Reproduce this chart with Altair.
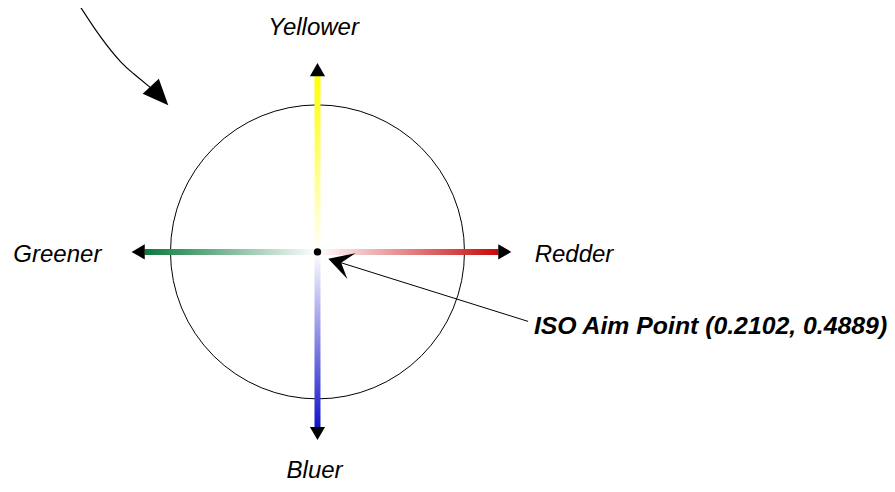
import altair as alt
import pandas as pd

# Coordinate system: origin at the circle centre, 1 unit = circle radius
X_DOMAIN = [-2.0952, 3.8844]
Y_DOMAIN = [-1.5782, 1.6599]

# ---- data ----
arm_labels = ["Yellower", "Bluer", "Greener", "Redder"]
arm_colors = ["#ffff00", "#1414c8", "#0b7a3c", "#c80a0a"]
arm_end_x = [0.0, 0.0, -1.19, 1.245]
arm_end_y = [1.225, -1.218, 0.0, 0.0]
head_x = [0.0, 0.0, -1.234, 1.289]
head_y = [1.266, -1.262, 0.0, 0.0]
head_angle = [0, 180, 270, 90]
label_x = [-0.027, -0.02, -1.79, 1.765]
label_y = [1.510, -1.568, -0.068, -0.068]

aim_label = "ISO Aim Point (0.2102, 0.4889)"
aim_label_x = [1.489]
aim_label_y = [-0.5714]
aim_line_x = [1.449, 0.154]
aim_line_y = [-0.483, -0.073]

curve_x = [-1.639, -1.490, -1.354, -1.265, -1.143]
curve_y = [1.714, 1.490, 1.320, 1.238, 1.136]
curve_head_x = [-1.087]
curve_head_y = [1.085]

xs = alt.Scale(domain=X_DOMAIN, nice=False, zero=False)
ys = alt.Scale(domain=Y_DOMAIN, nice=False, zero=False)


def X(f):
    return alt.X(f, type="quantitative", scale=xs, axis=None)


def Y(f):
    return alt.Y(f, type="quantitative", scale=ys, axis=None)


origin = pd.DataFrame({"x": [0.0], "y": [0.0]})

circle = alt.Chart(origin).mark_point(
    shape="circle", size=294 * 294, filled=False, stroke="black",
    strokeWidth=1, opacity=1
).encode(x=X("x"), y=Y("y"))

grad_dirs = {
    "Yellower": (0.5, 0, 0.5, 1),
    "Bluer": (0.5, 1, 0.5, 0),
    "Greener": (0, 0.5, 1, 0.5),
    "Redder": (1, 0.5, 0, 0.5),
}

layers = [circle]
for name, col, ex, ey in zip(arm_labels, arm_colors, arm_end_x, arm_end_y):
    d = pd.DataFrame({"x0": [0.0], "y0": [0.0], "x1": [ex], "y1": [ey]})
    x1, y1, x2, y2 = grad_dirs[name]
    grad = alt.Gradient(
        gradient="linear",
        stops=[alt.GradientStop(color=col, offset=0),
               alt.GradientStop(color="white", offset=1)],
        x1=x1, y1=y1, x2=x2, y2=y2,
    )
    if ex == 0:
        bar = alt.Chart(d).mark_bar(size=6, orient="vertical", fill=grad, strokeWidth=0).encode(
            x=X("x0"), y=Y("y0"), y2="y1:Q")
    else:
        bar = alt.Chart(d).mark_bar(size=6, orient="horizontal", fill=grad, strokeWidth=0).encode(
            x=X("x0"), x2="x1:Q", y=Y("y0"))
    layers.append(bar)

heads = pd.DataFrame({"x": head_x, "y": head_y, "a": head_angle})
layers.append(
    alt.Chart(heads).mark_point(shape="triangle-up", size=230, filled=True,
                                color="black", opacity=1).encode(
        x=X("x"), y=Y("y"), angle=alt.Angle("a:Q", scale=None))
)

labels = pd.DataFrame({"x": label_x, "y": label_y, "t": arm_labels})
layers.append(
    alt.Chart(labels).mark_text(font="Liberation Sans", fontSize=24, fontStyle="italic",
                                align="center", baseline="alphabetic", color="black").encode(
        x=X("x"), y=Y("y"), text="t:N")
)

# annotation line + notched arrowhead
aim_line = pd.DataFrame({"x": aim_line_x, "y": aim_line_y, "i": [0, 1]})
layers.append(
    alt.Chart(aim_line).mark_line(color="black", strokeWidth=1).encode(
        x=X("x"), y=Y("y"), order="i:O")
)
aim_head = pd.DataFrame({"x": [aim_line_x[1]], "y": [aim_line_y[1]]})
layers.append(
    alt.Chart(aim_head).mark_point(shape="M0,-0.9L1,0.9L0,0.1L-1,0.9Z", size=729, angle=287.6,
                                   filled=True, color="black", opacity=1).encode(
        x=X("x"), y=Y("y"))
)
aim_text = pd.DataFrame({"x": aim_label_x, "y": aim_label_y, "t": [aim_label]})
layers.append(
    alt.Chart(aim_text).mark_text(font="Liberation Sans", fontSize=24.8, fontStyle="italic",
                                  fontWeight="bold", align="left", baseline="alphabetic",
                                  color="black").encode(
        x=X("x"), y=Y("y"), text="t:N")
)

# curved arrow at top-left
curve = pd.DataFrame({"x": curve_x, "y": curve_y, "i": list(range(len(curve_x)))})
layers.append(
    alt.Chart(curve).mark_line(color="black", strokeWidth=1.2, interpolate="natural").encode(
        x=X("x"), y=Y("y"), order="i:O")
)
curve_head = pd.DataFrame({"x": curve_head_x, "y": curve_head_y})
layers.append(
    alt.Chart(curve_head).mark_point(shape="M0,-1L0.85,1L-0.85,1Z", size=666, angle=137.3,
                                     filled=True, color="black", opacity=1).encode(
        x=X("x"), y=Y("y"))
)

# centre dot
layers.append(
    alt.Chart(origin).mark_point(shape="circle", size=55, filled=True, color="black",
                                 opacity=1).encode(x=X("x"), y=Y("y"))
)

chart = alt.layer(*layers).properties(
    width=879, height=476, padding=0, background="white",
    autosize=alt.AutoSizeParams(type="none"),
).configure_view(stroke=None)

chart.save("out.html", embed_options={"renderer": "svg", "actions": False})
